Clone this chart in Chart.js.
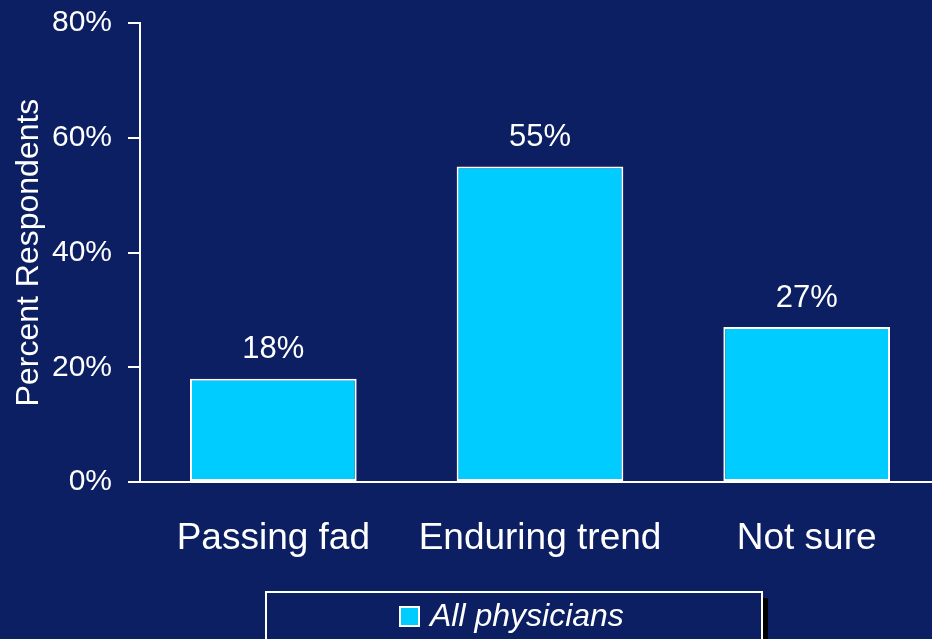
<!DOCTYPE html>
<html>
<head>
<meta charset="utf-8">
<script src="https://cdn.jsdelivr.net/npm/chart.js@4/dist/chart.umd.min.js"></script>
<style>
  html, body { margin: 0; padding: 0; background: #0B1F62; }
  #wrap { width: 932px; height: 639px; overflow: hidden; position: relative; }
  canvas { display: block; }
</style>
</head>
<body>
<div id="wrap"><canvas id="c" width="950" height="639"></canvas></div>
<script>
// Survey responses, percent of respondents
const categories = ['Passing fad', 'Enduring trend', 'Not sure'];
const seriesName = 'All physicians';
const values = [18, 55, 27];
const yTicks = [0, 20, 40, 60, 80];

const FONT = '"Liberation Sans", Arial, sans-serif';
const WHITE = '#FFFFFF';
const BAR = '#00CCFF';
const BG = '#0B1F62';

// Value labels above each bar
const valueLabels = {
  id: 'valueLabels',
  afterDatasetsDraw(chart) {
    const ctx = chart.ctx;
    const meta = chart.getDatasetMeta(0);
    ctx.save();
    ctx.fillStyle = WHITE;
    ctx.font = '31px ' + FONT;
    ctx.textAlign = 'center';
    ctx.textBaseline = 'middle';
    meta.data.forEach((bar, i) => {
      ctx.fillText(values[i] + '%', bar.x, bar.y - 29);
    });
    ctx.restore();
  }
};

// Boxed legend with drop shadow beneath the axis labels
const boxLegend = {
  id: 'boxLegend',
  afterDraw(chart) {
    const ctx = chart.ctx;
    const ds = chart.data.datasets[0];
    const bx = 266, by = 592, bw = 496, bh = 52;
    ctx.save();
    ctx.fillStyle = '#000000';
    ctx.fillRect(bx + 6, by + 6, bw, bh);
    ctx.fillStyle = BG;
    ctx.fillRect(bx, by, bw, bh);
    ctx.strokeStyle = WHITE;
    ctx.lineWidth = 2;
    ctx.strokeRect(bx, by, bw, bh);
    // swatch
    ctx.fillStyle = ds.backgroundColor;
    ctx.fillRect(400, 607, 19, 19);
    ctx.strokeStyle = WHITE;
    ctx.lineWidth = 2;
    ctx.strokeRect(400, 607, 19, 19);
    // label
    ctx.fillStyle = WHITE;
    ctx.font = 'italic 32px ' + FONT;
    ctx.textAlign = 'left';
    ctx.textBaseline = 'middle';
    ctx.fillText(ds.label, 430, 617);
    ctx.restore();
  }
};

new Chart(document.getElementById('c'), {
  type: 'bar',
  data: {
    labels: categories,
    datasets: [{
      label: seriesName,
      data: values,
      backgroundColor: BAR,
      borderColor: WHITE,
      borderWidth: 2,
      borderSkipped: false,
      barPercentage: 0.625,
      categoryPercentage: 1.0
    }]
  },
  options: {
    responsive: false,
    animation: false,
    layout: { padding: { top: 23, right: 10, left: 0, bottom: 0 } },
    plugins: {
      legend: { display: false },
      tooltip: { enabled: false }
    },
    scales: {
      x: {
        grid: { display: false, drawTicks: false },
        border: { display: true, color: WHITE, width: 2 },
        ticks: { color: WHITE, font: { family: FONT, size: 37 }, padding: 35, maxRotation: 0 },
        afterFit(scale) {
          scale.height = 157;
          scale.paddingLeft = 0;
          scale.paddingRight = 0;
        }
      },
      y: {
        min: 0,
        max: 80,
        afterBuildTicks(scale) { scale.ticks = yTicks.map(v => ({ value: v })); },
        grid: { drawOnChartArea: false, drawTicks: true, tickLength: 12, color: WHITE, lineWidth: 2 },
        border: { display: true, color: WHITE, width: 2 },
        ticks: {
          color: WHITE,
          font: { family: FONT, size: 30 },
          padding: 16,
          callback: v => v + '%'
        },
        title: {
          display: true,
          text: 'Percent Respondents',
          color: WHITE,
          font: { family: FONT, size: 32 },
          padding: { top: 10, bottom: 0 }
        },
        afterFit(scale) {
          scale.width = 140;
          scale.paddingTop = 0;
          scale.paddingBottom = 0;
        }
      }
    }
  },
  plugins: [valueLabels, boxLegend]
});
</script>
</body>
</html>
